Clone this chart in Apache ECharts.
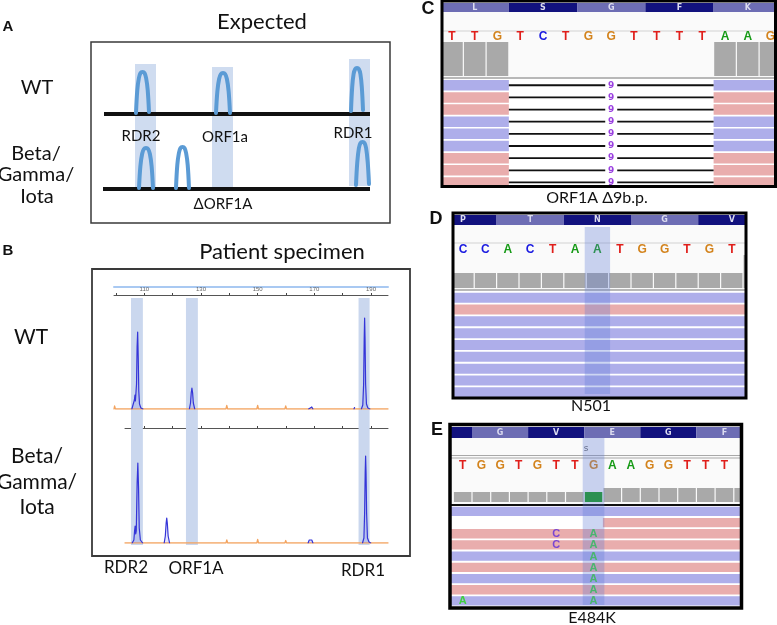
<!DOCTYPE html>
<html><head><meta charset="utf-8">
<script src="https://cdn.jsdelivr.net/npm/echarts@6/dist/echarts.min.js"></script>
<style>html,body{margin:0;padding:0;background:#fff}#c{width:777px;height:625px}</style>
</head><body><div id="c"></div>
<script>
// ================= DATA =================
// Panel A (schematic): x = position across the box, y = height above box bottom
const bandsA = [[44,65,33,159],[121,142,35,156],[258,279,37,164]];
const baselineWT_A = [[13,109],[279,109]];
const baselineVar_A = [[12,34],[279,34]];
const peaksWT_A = [
  [[45,110],[46.3,133],[47.9,145],[49.5,150],[51.5,151],[53.5,150],[55.1,145],[56.7,133],[58,111]],
  [[125,110],[126.4,132],[128.1,144],[129.9,149],[132,150],[134.1,149],[135.9,144],[137.6,132],[139,110]],
  [[260,112],[261.2,136],[262.6,149],[264.2,154],[266,155],[267.8,154],[269.4,149],[270.8,136],[272,113]]
];
const peaksVar_A = [
  [[48,35],[49.4,57],[51.1,69],[52.9,74],[55,75],[57.1,74],[58.9,69],[60.6,57],[62,35]],
  [[85,35],[86.3,58],[87.9,70],[89.5,75],[91.5,76],[93.5,75],[95.1,70],[96.7,58],[98,35]],
  [[265,38],[266.3,61],[267.9,75],[269.5,80],[271.5,81],[273.5,80],[275.1,75],[276.7,61],[278,39]]
];

// Panel B (fragment analysis): x = size (bp), y = signal
const bandsB = [[105.3,109.5],[124.7,128.9],[185.6,189.5]];
const tickValuesB = [100,110,120,130,140,150,160,170,180,190];
const tickLabelsB = [110,130,150,170,190];
const blueWT_B = [
  [[105.6,0],[106.2,2],[106.5,9],[106.7,14],[106.85,8],[107.0,6],[107.25,25],[107.45,62],[107.65,77],[107.85,52],[108.05,18],[108.3,5],[108.8,1],[109.5,0]],
  [[125.9,0],[126.3,6],[126.55,16],[126.8,21],[127.05,16],[127.3,6],[127.8,0]],
  [[168.0,0],[168.3,2],[168.7,1.5],[169.1,2],[169.5,0]],
  [[184.0,0],[184.2,1.5],[184.4,0]],
  [[186.6,0],[187.1,4],[187.4,25],[187.6,70],[187.75,91],[187.9,70],[188.1,25],[188.4,5],[188.9,1],[189.6,0]]
];
const orangeWT_B = [[99.3,0],[99.5,3],[99.8,0],[138.8,0],[139.1,3.5],[139.4,0],[149.7,0],[150,3.5],[150.3,0],[159.6,0],[159.9,3],[160.2,0],[196,0]];
const blueVar_B = [
  [[105.7,0],[106.3,3],[106.55,12],[106.75,17],[106.95,9],[107.15,12],[107.45,60],[107.7,80],[107.95,55],[108.2,15],[108.6,3],[109.4,0]],
  [[117.0,0],[117.4,7],[117.7,20],[117.9,25],[118.1,20],[118.4,7],[118.9,0]],
  [[167.8,0],[168.2,3],[168.5,4.5],[168.8,2.5],[169.1,3],[169.5,0]],
  [[187.0,0],[187.5,5],[187.75,30],[187.95,70],[188.1,87],[188.25,70],[188.45,30],[188.75,5],[189.3,1],[189.9,0]]
];
const orangeVar_B = [[103.17,0],[138.8,0],[139.1,3],[139.4,0],[149.7,0],[150,3.5],[150.3,0],[159.6,0],[159.9,2.5],[160.2,0],[196,0]];

// Panel C (ORF1A deletion): x = base index
const seqC = ['T','T','G','T','C','T','G','G','T','T','T','T','A','A','G'];
const aaC = ['L','S','G','F','K'];
const aaStartC = 0;
const covC = [34,34,34,0,0,0,0,0,0,0,0,0,34,34,34];
const readsC = [[-1,16,'-'],[-1,16,'+'],[-1,16,'+'],[-1,16,'-'],[-1,16,'-'],[-1,16,'-'],[-1,16,'+'],[-1,16,'+'],[-1,16,'+']];
const delsC = [[0,3,12,'9'],[1,3,12,'9'],[2,3,12,'9'],[3,3,12,'9'],[4,3,12,'9'],[5,3,12,'9'],[6,3,12,'9'],[7,3,12,'9'],[8,3,12,'9']];

// Panel D (N501)
const seqD = ['C','C','A','C','T','A','A','T','G','G','T','G','T'];
const aaD = ['P','T','N','G','V'];
const aaStartD = -1;
const covD = [15,15,15,15,15,15,15,15,15,15,15,15,15,33];
const readsD = [[-1,15,'-'],[-1,15,'+'],[-1,15,'-'],[-1,15,'-'],[-1,15,'-'],[-1,15,'-'],[-1,15,'-'],[-1,15,'-'],[-1,15,'-']];
const highlightD = [6];

// Panel E (E484K)
const seqE = ['T','G','G','T','G','T','T','G','A','A','G','G','T','T','T'];
const aaE = ['N','G','V','E','G','F'];
const aaStartE = -2;
const covE = [10,10,10,10,10,10,10,10,14,14,14,14,14,14,14,14];
const covAltE = [[7,'A']];
const readsE = [[-1,17,'-'],[8,17,'+'],[-1,17,'+'],[-1,17,'+'],[-1,17,'-'],[-1,17,'+'],[-1,17,'-'],[-1,17,'+'],[-1,17,'-']];
const mismatchE = [[2,5,'C'],[2,7,'A'],[3,5,'C'],[3,7,'A'],[4,7,'A'],[5,7,'A'],[6,7,'A'],[7,7,'A'],[8,0,'A'],[8,7,'A']];
const marksE = [[7,'s']];
const highlightE = [7];

// ================= LAYOUT / STYLE =================
const FONT = 'Lato, "Open Sans", sans-serif';
const baseColor = {A:'#169a16', C:'#1a1ae0', G:'#d3831c', T:'#e01e1a'};
const mmColor = {A:'#3ed03e', C:'#7a45d2', G:'#d3831c', T:'#e01e1a'};
const strandColor = {'-':'#aeaeea', '+':'#e9adad'};
const aaDark = '#12127e', aaLight = '#6d6db4';

const LC = {grid:{left:442,top:1,width:333.5,height:185.5}, base0:440.6, bw:22.75, border:3, darkFirst:false,
  aaY:[2,11], bgY:[11,76], lines:[{y:30,c:'#d2d2d2',w:1},{y:77,c:'#a0a0a0',w:1.5}], seqY:35.5, covBottom:75,
  readTop:79, pitch:12.15, readH:10.5};
const LD = {grid:{left:453,top:213,width:293,height:185}, base0:451.8, bw:22.4, border:3, darkFirst:true,
  aaY:[2,12], bgY:[12,77], lines:[{y:30,c:'#d2d2d2',w:1},{y:77,c:'#a0a0a0',w:1.5}], seqY:37, covBottom:75,
  readTop:79.7, pitch:11.83, readH:10, hlY:[14,181]};
const LE = {grid:{left:450,top:424.5,width:291.5,height:183.5}, base0:453.3, bw:18.7, border:3.5, darkFirst:true,
  aaY:[2.5,13.5], bgY:[13.5,80], lines:[{y:31,c:'#a8a8a8',w:1},{y:33.5,c:'#a8a8a8',w:1},{y:80.5,c:'#111',w:2}], seqY:41.5, covBottom:77.5,
  readTop:82.2, pitch:11.2, readH:9.3, hlY:[13.5,180.5], markY:24.5};
[LC,LD,LE].forEach(P=>{P.xmin=(P.grid.left-P.base0)/P.bw; P.xmax=(P.grid.left+P.grid.width-P.base0)/P.bw;});

// ================= HELPERS =================
function rect(api,x0,x1,y0,y1,style){
  const a=api.coord([x0,y0]), b=api.coord([x1,y1]);
  return {type:'rect',shape:{x:Math.min(a[0],b[0]),y:Math.min(a[1],b[1]),width:Math.abs(b[0]-a[0]),height:Math.abs(b[1]-a[1])},style};
}
function txt(api,x,y,text,fill,font,extra){
  const p=api.coord([x,y]);
  return {type:'text',style:Object.assign({text,x:p[0],y:p[1],fill,font,align:'center',verticalAlign:'middle'},extra||{})};
}
function igv(ax, P, D){
  const base={type:'custom',xAxisIndex:ax[0],yAxisIndex:ax[1],clip:true,silent:true,animation:false};
  const S=[];
  S.push(Object.assign({},base,{z:1,data:[[P.xmin]],renderItem:(p,api)=>{
    const ch=[rect(api,P.xmin,P.xmax,P.bgY[0],P.bgY[1],{fill:'#fafafa'})];
    P.lines.forEach(l=>{const a=api.coord([P.xmin,l.y]),b=api.coord([P.xmax,l.y]);
      ch.push({type:'line',shape:{x1:a[0],y1:a[1],x2:b[0],y2:b[1]},style:{stroke:l.c,lineWidth:l.w}});});
    return {type:'group',children:ch};}}));
  S.push(Object.assign({},base,{z:2,data:D.aa.map((a,i)=>[D.aaStart+3*i,D.aaStart+3*i+3]),renderItem:(p,api)=>{
    const i=p.dataIndex, s=api.value(0), e=api.value(1);
    const dark=(i%2===0)===P.darkFirst;
    const mid=(P.aaY[0]+P.aaY[1])/2, c=(s+e)/2;
    const ch=[rect(api,s,e,P.aaY[0],P.aaY[1],{fill:dark?aaDark:aaLight})];
    if(c>P.xmin+0.3 && c<P.xmax) ch.push(txt(api,c,mid,D.aa[i],'#dcdcf0','bold 8px "DejaVu Sans", sans-serif'));
    return {type:'group',children:ch};}}));
  S.push(Object.assign({},base,{z:3,data:D.seq.map((b,i)=>[i+0.5,P.seqY]),renderItem:(p,api)=>{
    const b=D.seq[p.dataIndex];
    return txt(api,api.value(0),api.value(1),b,baseColor[b],'bold 12px "Liberation Sans", sans-serif');}}));
  S.push(Object.assign({},base,{z:3,data:D.cov.map((v,i)=>[i,v]),renderItem:(p,api)=>{
    const i=api.value(0), v=api.value(1); if(!v) return null;
    const alt=(D.covAlt||[]).find(c=>c[0]===i);
    const r=rect(api,i,i+1,P.covBottom-v,P.covBottom,{fill:alt?'#129a12':'#a9a9a9'});
    r.shape.x+=0.6; r.shape.width-=1.2; return r;}}));
  S.push(Object.assign({},base,{z:3,data:D.reads.map((r,i)=>[r[0],r[1],i]),renderItem:(p,api)=>{
    const r=D.reads[p.dataIndex], row=p.dataIndex, y0=P.readTop+row*P.pitch;
    const dl=(D.dels||[]).find(d=>d[0]===row);
    if(dl){
      const ym=y0+P.readH/2;
      const a=api.coord([dl[1],ym]), b=api.coord([dl[2],ym]), m=(a[0]+b[0])/2;
      return {type:'group',children:[
        rect(api,r[0],dl[1],y0,y0+P.readH,{fill:strandColor[r[2]]}),
        rect(api,dl[2],r[1],y0,y0+P.readH,{fill:strandColor[r[2]]}),
        {type:'line',shape:{x1:a[0],y1:a[1],x2:m-6,y2:a[1]},style:{stroke:'#111',lineWidth:1.8}},
        {type:'line',shape:{x1:m+6,y1:a[1],x2:b[0],y2:a[1]},style:{stroke:'#111',lineWidth:1.8}},
        {type:'text',style:{text:dl[3],x:m,y:a[1],fill:'#9a40e0',font:'bold 9px "DejaVu Sans", sans-serif',align:'center',verticalAlign:'middle'}}
      ]};
    }
    return rect(api,r[0],r[1],y0,y0+P.readH,{fill:strandColor[r[2]]});}}));
  if(D.mm) S.push(Object.assign({},base,{z:4,data:D.mm.map(m=>[m[1]+0.5,m[0]]),renderItem:(p,api)=>{
    const m=D.mm[p.dataIndex], y=P.readTop+m[0]*P.pitch+P.readH/2+0.5;
    return txt(api,m[1]+0.5,y,m[2],mmColor[m[2]],'bold 11px "Liberation Sans", sans-serif');}}));
  if(D.marks) S.push(Object.assign({},base,{z:4,data:D.marks.map(m=>[m[0]]),renderItem:(p,api)=>{
    const m=D.marks[p.dataIndex];
    return txt(api,m[0]+0.1,P.markY,m[1],'#666','9px "DejaVu Sans", sans-serif');}}));
  if(D.hl) S.push(Object.assign({},base,{z:5,data:D.hl.map(h=>[h]),renderItem:(p,api)=>{
    const h=api.value(0), r=rect(api,h,h+1,P.hlY[0],P.hlY[1],{fill:'rgba(95,125,215,0.32)'});
    r.shape.x-=1.5; r.shape.width+=3; return r;}}));
  return S;
}
function line(xi,yi,pts,color,width,opts){
  return Object.assign({type:'line',xAxisIndex:xi,yAxisIndex:yi,data:pts,symbol:'none',showSymbol:false,silent:true,animation:false,
    lineStyle:{color,width,cap:'round',join:'round'},z:3},opts||{});
}

// ================= OPTION =================
const hidden=(gi,min,max,inv)=>({type:'value',gridIndex:gi,min,max,inverse:!!inv,show:false});
const xAxis=[
  hidden(0,0,299),
  hidden(1,91.55,203.75),
  {type:'value',gridIndex:2,min:99.3,max:196,position:'top',axisLine:{onZero:false,lineStyle:{color:'#555',width:1}},
    axisTick:{customValues:tickValuesB,length:2,lineStyle:{color:'#444'}},
    axisLabel:{customValues:tickLabelsB,fontSize:6,color:'#666',margin:3},splitLine:{show:false}},
  {type:'value',gridIndex:2,min:99.3,max:196,position:'top',offset:8,axisLine:{onZero:false,lineStyle:{color:'#a9c9f2',width:2}},
    axisTick:{show:false},axisLabel:{show:false},splitLine:{show:false}},
  {type:'value',gridIndex:3,min:103.17,max:196,position:'top',axisLine:{onZero:false,lineStyle:{color:'#555',width:1}},
    axisTick:{customValues:tickValuesB.slice(1),length:2,lineStyle:{color:'#444'}},axisLabel:{show:false},splitLine:{show:false}},
  hidden(4,LC.xmin,LC.xmax),
  hidden(5,LD.xmin,LD.xmax),
  hidden(6,LE.xmin,LE.xmax)
];
const yAxis=[
  hidden(0,0,181), hidden(1,0,287,true), hidden(2,0,114), hidden(3,0,115),
  hidden(4,0,LC.grid.height,true), hidden(5,0,LD.grid.height,true), hidden(6,0,LE.grid.height,true)
];
const igvGrid=(P)=>Object.assign({},P.grid,{show:true,borderColor:'#000',borderWidth:P.border,backgroundColor:'rgba(0,0,0,0)',z:10});
const grid=[
  {left:91,top:42,width:299,height:181,show:true,borderColor:'#3a3a3a',borderWidth:1.5},
  {left:92,top:269,width:318,height:287,show:true,borderColor:'#3a3a3a',borderWidth:1.8},
  {left:114,top:295,width:274,height:114},
  {left:125,top:428,width:263,height:115},
  igvGrid(LC), igvGrid(LD), igvGrid(LE)
];

const series=[];
series.push({type:'custom',xAxisIndex:0,yAxisIndex:0,z:1,silent:true,animation:false,data:bandsA,
  renderItem:(p,api)=>rect(api,api.value(0),api.value(1),api.value(2),api.value(3),{fill:'#cfdcf0'})});
series.push(line(0,0,baselineWT_A,'#111',4,{lineStyle:{color:'#111',width:4,cap:'butt'}}));
series.push(line(0,0,baselineVar_A,'#111',4,{lineStyle:{color:'#111',width:4,cap:'butt'}}));
peaksWT_A.concat(peaksVar_A).forEach(pk=>series.push(line(0,0,pk,'#5b9bd5',4,{smooth:0.35,z:4})));

series.push({type:'custom',xAxisIndex:1,yAxisIndex:1,z:1,silent:true,animation:false,data:bandsB,
  renderItem:(p,api)=>rect(api,api.value(0),api.value(1),29,276,{fill:'#cad7ee'})});
series.push(line(2,2,orangeWT_B,'#f3a460',1.3));
blueWT_B.forEach(s=>series.push(line(2,2,s,'#3535d8',1.2,{areaStyle:{color:'rgba(90,90,235,0.22)'},z:4})));
series.push(line(4,3,orangeVar_B,'#f3a460',1.3));
blueVar_B.forEach(s=>series.push(line(4,3,s,'#3535d8',1.2,{areaStyle:{color:'rgba(90,90,235,0.22)'},z:4})));

series.push(...igv([5,4],LC,{aa:aaC,aaStart:aaStartC,seq:seqC,cov:covC,reads:readsC,dels:delsC}));
series.push(...igv([6,5],LD,{aa:aaD,aaStart:aaStartD,seq:seqD,cov:covD,reads:readsD,hl:highlightD}));
series.push(...igv([7,6],LE,{aa:aaE,aaStart:aaStartE,seq:seqE,cov:covE,covAlt:covAltE,reads:readsE,mm:mismatchE,marks:marksE,hl:highlightE}));

const T=(x,y,text,size,weight,family)=>({type:'text',x,y,silent:true,z:20,style:{text,fill:'#111',
  font:(weight||'normal')+' '+size+'px '+(family||FONT),align:'center',verticalAlign:'middle'}});
const BOLD='"Liberation Sans", Arial, sans-serif';
const graphic=[
  T(8,27,'A',15,'bold',BOLD), T(262,22,'Expected',22),
  T(37,88,'WT',20), T(36,154,'Beta/',20), T(36,175,'Gamma/',20), T(37,197,'Iota',20),
  T(141,136,'RDR2',15), T(225,137,'ORF1a',15), T(353,133,'RDR1',15), T(223,204,'\u0394ORF1A',15),
  T(8,251,'B',15,'bold',BOLD), T(282,252,'Patient specimen',22),
  T(31,337,'WT',21), T(37,456,'Beta/',21), T(37,482,'Gamma/',21), T(37,507,'Iota',21),
  T(126,568,'RDR2',17), T(196,569,'ORF1A',17), T(363,571,'RDR1',17),
  T(428,9,'C',18,'bold',BOLD), T(436,219,'D',18,'bold',BOLD), T(437,430,'E',18,'bold',BOLD),
  T(597,198,'ORF1A \u03949b.p.',16), T(591,406,'N501',16), T(592,618,'E484K',16)
];

const chart=echarts.init(document.getElementById('c'),null,{renderer:'canvas'});
chart.setOption({backgroundColor:'#fff',animation:false,grid,xAxis,yAxis,series,graphic});
</script></body></html>
